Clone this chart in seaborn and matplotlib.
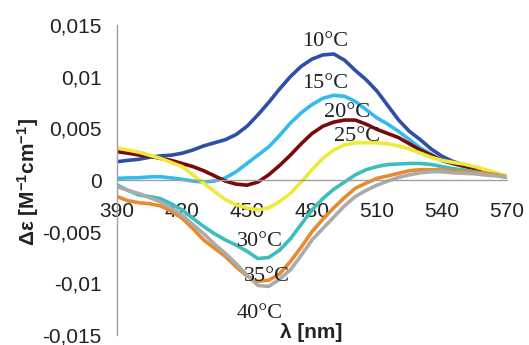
import numpy as np
import pandas as pd
import matplotlib
matplotlib.use("Agg")
import matplotlib.pyplot as plt
import seaborn as sns

wavelength = [390, 395, 400, 405, 410, 415, 420, 425, 430, 435, 440, 445, 450, 455, 460, 465, 470, 475, 480,
              485, 490, 495, 500, 505, 510, 515, 520, 525, 530, 535, 540, 545, 550, 555, 560, 565, 570]

t10 = [0.00177, 0.0019, 0.0020, 0.0022, 0.00233, 0.0024, 0.00259, 0.0029, 0.0033, 0.0036, 0.0039, 0.0044, 0.0052,
       0.0063, 0.0075, 0.0088, 0.0100, 0.0110, 0.0117, 0.0121, 0.0122, 0.0116, 0.0106, 0.0097, 0.0086, 0.0072,
       0.0058, 0.0047, 0.0039, 0.0030, 0.0023, 0.0018, 0.00145, 0.0011, 0.0008, 0.0005, 0.0003]
t15 = [0.00016, 0.0002, 0.00022, 0.0003, 0.00032, 0.0002, 0.00007, -0.0001, -0.0002, -0.0001, 0.0002, 0.0008,
       0.0016, 0.0024, 0.0032, 0.0043, 0.0055, 0.0065, 0.0073, 0.0079, 0.0082, 0.0081, 0.0076, 0.0068, 0.0060,
       0.0054, 0.0047, 0.0039, 0.0031, 0.0025, 0.0019, 0.0016, 0.0013, 0.0010, 0.0007, 0.0005, 0.0004]
t20 = [0.00274, 0.0026, 0.00242, 0.0023, 0.0021, 0.0019, 0.0016, 0.0013, 0.0009, 0.0004, -0.0001, -0.0004,
       -0.0005, -0.0002, 0.0005, 0.0014, 0.0024, 0.0035, 0.0045, 0.0052, 0.0056, 0.0058, 0.0058, 0.0054, 0.0049,
       0.0045, 0.0041, 0.0035, 0.0029, 0.0024, 0.0019, 0.0016, 0.00136, 0.0011, 0.0008, 0.0005, 0.0003]
t25 = [0.0031, 0.0029, 0.0027, 0.0024, 0.0021, 0.0017, 0.0013, 0.0005, -0.0003, -0.0011, -0.0019, -0.0024,
       -0.0027, -0.0029, -0.0027, -0.0021, -0.0013, -0.0002, 0.0010, 0.0021, 0.0029, 0.0034, 0.0036, 0.0036,
       0.0036, 0.0035, 0.0033, 0.0030, 0.0026, 0.0022, 0.0019, 0.0017, 0.00155, 0.0013, 0.0010, 0.0007, 0.0004]
t30 = [-0.00048, -0.0010, -0.00145, -0.0016, -0.0018, -0.0023, -0.0029, -0.0037, -0.0045, -0.0052, -0.0058,
       -0.0063, -0.0069, -0.0076, -0.0075, -0.0068, -0.0057, -0.0043, -0.0029, -0.0018, -0.0009, -0.0002, 0.0005,
       0.0010, 0.0013, 0.0015, 0.00155, 0.0016, 0.0016, 0.0015, 0.0013, 0.0011, 0.00097, 0.0008, 0.00065, 0.0005,
       0.00026]
t35 = [-0.0016, -0.0020, -0.0022, -0.0023, -0.0025, -0.0030, -0.0037, -0.0047, -0.0058, -0.0066, -0.0074,
       -0.0084, -0.0093, -0.0098, -0.0097, -0.0091, -0.0079, -0.0065, -0.0050, -0.0038, -0.0027, -0.0017, -0.0008,
       -0.0003, 0.00016, 0.0004, 0.00065, 0.0009, 0.0010, 0.0010, 0.00097, 0.0009, 0.0008, 0.0007, 0.00065, 0.0005,
       0.00026]
t40 = [-0.00065, -0.0010, -0.0013, -0.0017, -0.0021, -0.0027, -0.0034, -0.0043, -0.0052, -0.0062, -0.0071,
       -0.0081, -0.0092, -0.0102, -0.0103, -0.0096, -0.0087, -0.0073, -0.0058, -0.0047, -0.0036, -0.0025, -0.0016,
       -0.0010, -0.0005, -0.0001, 0.00026, 0.0005, 0.0007, 0.0008, 0.0008, 0.0007, 0.00065, 0.0006, 0.00048, 0.0004,
       0.00026]

series_names = ["10°C", "15°C", "20°C", "25°C", "30°C", "35°C", "40°C"]
series_values = [t10, t15, t20, t25, t30, t35, t40]
colors = ["#2E4FA8", "#33BBEE", "#7A0A0A", "#EEEA3A", "#3CBDBE", "#E88A2E", "#ABABAB"]

label_x = [486, 486, 496, 501, 456, 459, 456]
label_y = [0.0134, 0.0093, 0.0065, 0.0042, -0.0060, -0.0093, -0.0129]

x_ticks = [390, 420, 450, 480, 510, 540, 570]
y_ticks = [-0.015, -0.01, -0.005, 0, 0.005, 0.01, 0.015]
y_tick_labels = ["-0,015", "-0,01", "-0,005", "0", "0,005", "0,01", "0,015"]

rows = []
for name, vals in zip(series_names, series_values):
    for w, v in zip(wavelength, vals):
        rows.append({"wavelength": w, "value": v, "temp": name})
df = pd.DataFrame(rows)

sns.set_style("white")
plt.rcParams["font.family"] = ["Liberation Sans", "DejaVu Sans"]
plt.rcParams["mathtext.fontset"] = "custom"
plt.rcParams["mathtext.rm"] = "Liberation Sans:bold"
plt.rcParams["mathtext.it"] = "Liberation Sans:bold"
plt.rcParams["mathtext.bf"] = "Liberation Sans:bold"

fig = plt.figure(figsize=(5.29, 3.45), dpi=100)
ax = fig.add_axes([117 / 529, 10 / 345, 390 / 529, 310 / 345])

sns.lineplot(data=df, x="wavelength", y="value", hue="temp", hue_order=series_names,
             palette=colors, linewidth=2.6, legend=False, ax=ax,
             solid_joinstyle="round", solid_capstyle="round")

ax.set_xlim(390, 570)
ax.set_ylim(-0.015, 0.015)

ax.spines["top"].set_visible(False)
ax.spines["right"].set_visible(False)
ax.spines["bottom"].set_position(("data", 0))
for s in ("left", "bottom"):
    ax.spines[s].set_color("#A0A0A0")
    ax.spines[s].set_linewidth(1.0)

ax.set_xticks(x_ticks)
ax.set_xticklabels([str(t) for t in x_ticks])
ax.set_yticks(y_ticks)
ax.set_yticklabels(y_tick_labels)
ax.tick_params(axis="both", which="major", direction="out", length=5, width=1.0,
               color="#A0A0A0", labelsize=15, labelcolor="#222222")
ax.tick_params(axis="x", pad=11)
ax.tick_params(axis="y", pad=6)
ax.set_xlabel("")
ax.set_ylabel("")

for name, lx, ly in zip(series_names, label_x, label_y):
    ax.text(lx, ly, name, ha="center", va="center", fontsize=16,
            family=["Liberation Serif", "DejaVu Serif"], color="#222222")

fig.text(311 / 529, 1 - 332 / 345, "λ [nm]", ha="center", va="center",
         fontsize=15, fontweight="bold", color="#222222")
fig.text(28 / 529, 1 - 182 / 345, "Δε [M$^{-1}$cm$^{-1}$]", ha="center", va="center",
         rotation=90, fontsize=15, fontweight="bold", color="#222222")

fig.savefig("out.png", dpi=100)
